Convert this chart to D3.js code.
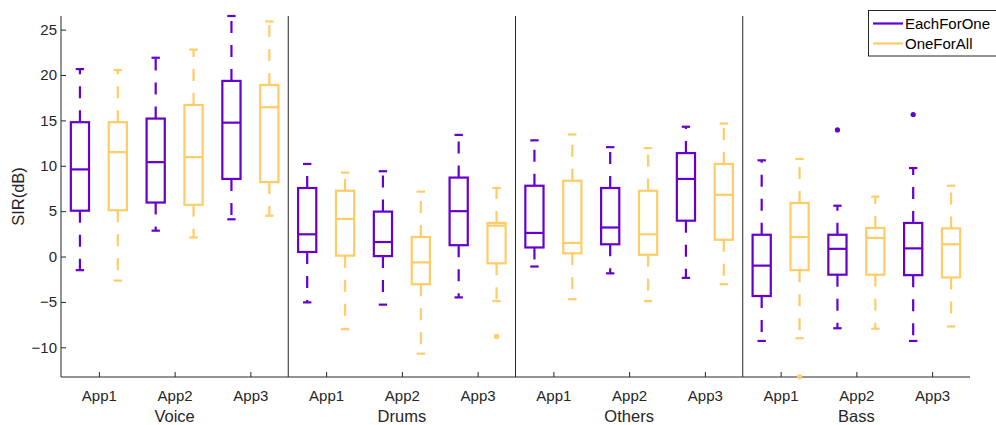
<!DOCTYPE html>
<html>
<head>
<meta charset="utf-8">
<script src="https://cdn.jsdelivr.net/npm/d3@7"></script>
<style>
  html, body { margin: 0; padding: 0; background: #fff; }
  svg { display: block; font-family: "Liberation Sans", Arial, sans-serif; }
</style>
</head>
<body>
<svg id="chart" width="996" height="425"></svg>
<script>
// ---- data ----
const groups = ["Voice", "Drums", "Others", "Bass"];
const apps = ["App1", "App2", "App3"];
const seriesNames = ["EachForOne", "OneForAll"];
const yTicks = [-10, -5, 0, 5, 10, 15, 20, 25];

// [lower whisker, Q1, median, Q3, upper whisker] per group/app
const eachForOneStats = [
  [-1.5, 5.05, 9.6, 14.8, 20.65],
  [2.85, 5.95, 10.4, 15.2, 21.9],
  [4.1, 8.55, 14.75, 19.35, 26.5],
  [-5.05, 0.5, 2.45, 7.55, 10.2],
  [-5.3, 0.05, 1.6, 4.95, 9.4],
  [-4.5, 1.25, 5.0, 8.7, 13.4],
  [-1.1, 1.0, 2.6, 7.8, 12.8],
  [-1.85, 1.35, 3.2, 7.55, 12.05],
  [-2.35, 3.95, 8.55, 11.4, 14.3],
  [-9.3, -4.35, -1.0, 2.4, 10.6],
  [-7.9, -2.0, 0.85, 2.4, 5.6],
  [-9.3, -2.05, 0.9, 3.7, 9.75]
];
const oneForAllStats = [
  [-2.65, 5.1, 11.5, 14.8, 20.55],
  [2.1, 5.7, 10.95, 16.7, 22.8],
  [4.5, 8.2, 16.45, 18.9, 25.9],
  [-8.0, 0.1, 4.15, 7.25, 9.25],
  [-10.7, -3.05, -0.65, 2.15, 7.15],
  [-4.9, -0.75, 3.4, 3.7, 7.55],
  [-4.7, 0.35, 1.5, 8.35, 13.45],
  [-4.9, 0.2, 2.45, 7.25, 11.95],
  [-3.05, 1.85, 6.8, 10.2, 14.65],
  [-9.0, -1.5, 2.15, 5.9, 10.75],
  [-7.95, -2.0, 2.05, 3.15, 6.6],
  [-7.7, -2.3, 1.35, 3.1, 7.8]
];
// outliers: [position index (0-based), value]
const eachForOneOutliers = [[10, 13.95], [11, 15.65]];
const oneForAllOutliers = [[5, -8.8], [9, -13.25]];

const colors = ["#6600cc", "#ffcc66"];

// ---- layout ----
const svg = d3.select("#chart");
const plotL = 61, plotR = 970, plotT = 16, plotB = 377;
const x = d3.scaleLinear().domain([0.5, 12.5]).range([plotL, plotR]);
const y = d3.scaleLinear().domain([-13.27, 26.5]).range([plotB, plotT]);
const offsetUnits = 0.25, boxW = 0.24, capW = 0.11;
const textColor = "#262626";

// separators
svg.append("g").selectAll("line").data([3.5, 6.5, 9.5]).join("line")
  .attr("x1", d => x(d)).attr("x2", d => x(d))
  .attr("y1", plotT).attr("y2", plotB)
  .attr("stroke", "#262626").attr("stroke-width", 1);

// axes
const yAxis = d3.axisLeft(y).tickValues(yTicks).tickSizeInner(-5).tickSizeOuter(0).tickPadding(4);
const gy = svg.append("g").attr("transform", `translate(${plotL},0)`).call(yAxis);
const positions = d3.range(1, 13);
const xAxis = d3.axisBottom(x).tickValues(positions).tickFormat(d => apps[(d - 1) % 3])
  .tickSizeInner(-5).tickSizeOuter(0).tickPadding(13);
const gx = svg.append("g").attr("transform", `translate(0,${plotB})`).call(xAxis);
[gx, gy].forEach(g => {
  g.select(".domain").attr("stroke", textColor);
  g.selectAll(".tick line").attr("stroke", textColor);
  g.selectAll(".tick text").attr("fill", textColor).style("font-size", "15px")
    .style("font-family", '"Liberation Sans", Arial, sans-serif');
});
gy.select(".domain").attr("d", `M0,${plotT}V${plotB}`);
gx.select(".domain").attr("d", `M${plotL},0H${plotR}`);

// group labels
svg.append("g").selectAll("text").data(groups).join("text")
  .attr("x", (d, i) => x(i * 3 + 2)).attr("y", 422)
  .attr("text-anchor", "middle").attr("fill", textColor)
  .style("font-size", "16.5px").text(d => d);

// y label
svg.append("text")
  .attr("transform", `translate(24,${(plotT + plotB) / 2}) rotate(-90)`)
  .attr("text-anchor", "middle").attr("fill", textColor)
  .style("font-size", "16.5px").text("SIR(dB)");

// boxes
const allStats = [eachForOneStats, oneForAllStats];
const allOutliers = [eachForOneOutliers, oneForAllOutliers];
allStats.forEach((stats, s) => {
  const off = s === 0 ? -offsetUnits : offsetUnits;
  const col = colors[s];
  const g = svg.append("g").attr("stroke", col).attr("fill", "none").attr("stroke-width", 2.2);
  stats.forEach((st, i) => {
    const c = i + 1 + off;
    const [lo, q1, med, q3, hi] = st;
    const bx = g.append("g");
    bx.append("line").attr("x1", x(c)).attr("x2", x(c)).attr("y1", y(q3)).attr("y2", y(hi))
      .attr("stroke-dasharray", "12,12");
    bx.append("line").attr("x1", x(c)).attr("x2", x(c)).attr("y1", y(q1)).attr("y2", y(lo))
      .attr("stroke-dasharray", "12,12");
    [lo, hi].forEach(v => {
      bx.append("line").attr("x1", x(c - capW / 2)).attr("x2", x(c + capW / 2))
        .attr("y1", y(v)).attr("y2", y(v));
    });
    bx.append("rect").attr("x", x(c - boxW / 2)).attr("width", x(c + boxW / 2) - x(c - boxW / 2))
      .attr("y", y(q3)).attr("height", y(q1) - y(q3));
    bx.append("line").attr("x1", x(c - boxW / 2)).attr("x2", x(c + boxW / 2))
      .attr("y1", y(med)).attr("y2", y(med));
  });
  svg.append("g").selectAll("circle").data(allOutliers[s]).join("circle")
    .attr("cx", d => x(d[0] + 1 + off)).attr("cy", d => y(d[1]))
    .attr("r", 2.6).attr("fill", col);
});

// legend
const lg = svg.append("g");
lg.append("rect").attr("x", 868.5).attr("y", 10.5).attr("width", 140).attr("height", 45.5)
  .attr("fill", "#fff").attr("stroke", "#262626").attr("stroke-width", 1);
seriesNames.forEach((n, i) => {
  const yy = 23.5 + i * 20;
  lg.append("line").attr("x1", 873).attr("x2", 903).attr("y1", yy).attr("y2", yy)
    .attr("stroke", colors[i]).attr("stroke-width", 2.2);
  lg.append("text").attr("x", 905).attr("y", yy).attr("dy", "0.35em")
    .attr("fill", "#000").style("font-size", "15px").text(n);
});
</script>
</body>
</html>
